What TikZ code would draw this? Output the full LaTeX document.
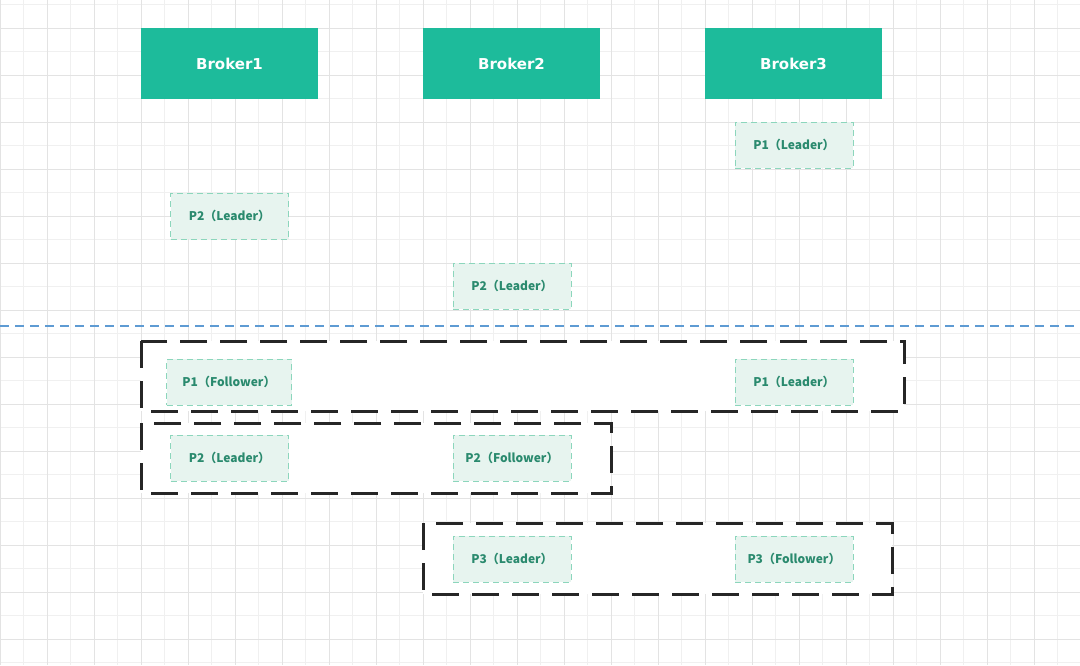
\documentclass[tikz,border=0pt]{standalone}
\usepackage{fontspec}
\setmainfont{DejaVu Sans}
\newfontfamily\partfont{Noto Sans CJK SC}
\usetikzlibrary{calc}
\definecolor{brokergreen}{HTML}{1DBB9B}
\definecolor{partfill}{HTML}{E7F4EF}
\definecolor{partline}{HTML}{8CD6BC}
\definecolor{parttext}{HTML}{2A8A6E}
\definecolor{splitblue}{HTML}{5E9BD3}
\definecolor{gridminor}{HTML}{F0F0F0}
\definecolor{gridmajor}{HTML}{E3E3E3}
\tikzset{
  broker/.style={fill=brokergreen, text=white, minimum width=177pt, minimum height=71pt, inner sep=0pt, font=\bfseries\fontsize{15}{17}\selectfont},
  part/.style={fill=partfill, draw=partline, dash pattern=on 6pt off 4pt, line width=1pt, text=parttext, minimum width=118pt, minimum height=46pt, inner sep=0pt, font=\partfont\bfseries\fontsize{12}{14}\selectfont},
  group/.style={draw=black!85, fill=white, line width=3pt, dash pattern=on 27pt off 13pt}
}

\begin{document}
\begin{tikzpicture}[x=1pt, y=-1pt]
\useasboundingbox (0,0) rectangle (1080,665);
\fill[white] (0,0) rectangle (1080,665);
% grid
\foreach \x in {23.5,70.5,...,1080} \draw[gridminor, line width=1pt] (\x,0) --++(0,665);
\foreach \y in {4.5,51.5,...,665} \draw[gridminor, line width=1pt] (0,\y) --++(1080,0);
\foreach \x in {0,47,...,1080} \draw[gridmajor, line width=1pt] (\x,0) --++(0,665);
\foreach \y in {28,75,...,665} \draw[gridmajor, line width=1pt] (0,\y) --++(1080,0);

% brokers
\node[broker] (broker1) at (229.5,63.5) {\raisebox{-1.5pt}{Broker1}};
\node[broker] (broker2) at (511.5,63.5) {\raisebox{-1.5pt}{Broker2}};
\node[broker] (broker3) at (793.5,63.5) {\raisebox{-1.5pt}{Broker3}};

% before
\node[part] (p1top) at (794,145) {P1（Leader）};
\node[part] (p2left) at (229.5,216) {P2（Leader）};
\node[part] (p2mid) at (512,286) {P2（Leader）};

% split
\coordinate (splitL) at (0,326);
\coordinate (splitR) at (1080,326);
\draw[splitblue, line width=1.2pt, dash pattern=on 9pt off 6pt] (splitL) -- (splitR);

% after
\draw[group] (141,341) rectangle (904,411);
\draw[group] (141,423) rectangle (611,493);
\draw[group] (423,523) rectangle (892,594);
\node[part, minimum width=125pt] (p1fol) at (229,382) {P1（Follower）};
\node[part] (p1lead) at (794,382) {P1（Leader）};
\node[part] (p2lead) at (229.5,458) {P2（Leader）};
\node[part] (p2fol) at (512,458) {P2（Follower）};
\node[part] (p3lead) at (512,559) {P3（Leader）};
\node[part] (p3fol) at (794,559) {P3（Follower）};
\end{tikzpicture}
\end{document}
